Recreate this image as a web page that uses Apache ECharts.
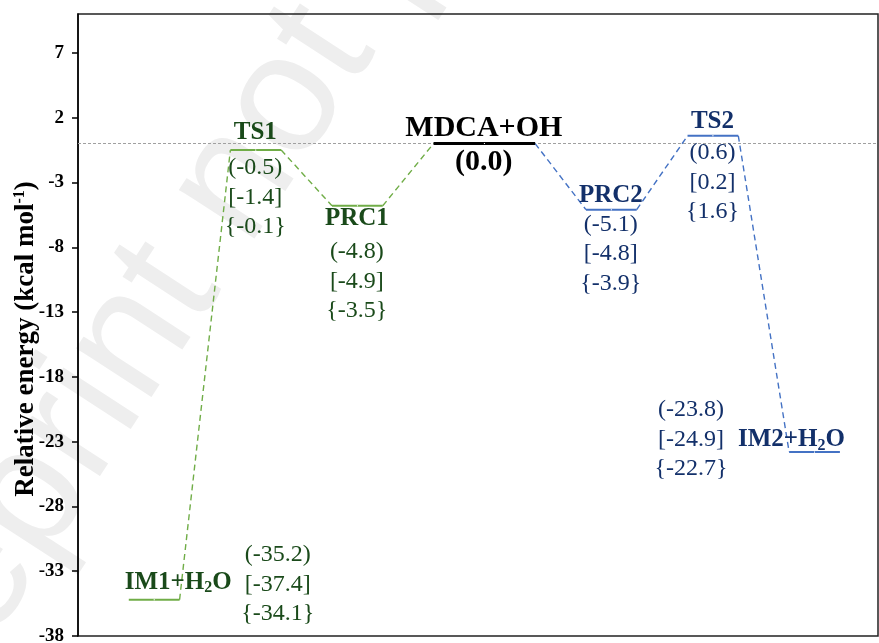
<!DOCTYPE html>
<html>
<head>
<meta charset="utf-8">
<script src="https://cdn.jsdelivr.net/npm/echarts@6/dist/echarts.min.js"></script>
<style>
  html, body { margin: 0; padding: 0; background: #fff; }
  #chart { width: 879px; height: 643px; }
</style>
</head>
<body>
<div id="chart"></div>
<script>
// Stationary points along the reaction path (kcal/mol)
const states = ['IM1+H2O', 'TS1', 'PRC1', 'MDCA+OH', 'PRC2', 'TS2', 'IM2+H2O'];
const energyParen   = [-35.2, -0.5, -4.8, 0.0, -5.1, 0.6, -23.8];
const energyBracket = [-37.4, -1.4, -4.9, null, -4.8, 0.2, -24.9];
const energyBrace   = [-34.1, -0.1, -3.5, null, -3.9, 1.6, -22.7];
const yTicks = [-38, -33, -28, -23, -18, -13, -8, -3, 2, 7];

const SERIF = "'Liberation Serif','Times New Roman',serif";
const GREEN_LINE = '#70AD47', GREEN_TEXT = '#1A4A1A';
const BLUE_LINE = '#4472C4', BLUE_TEXT = '#13306A';
const REF = 'MDCA+OH';

// horizontal extent of each level on the hidden x axis
const spans = [];
let cursor = 0;
states.forEach(s => {
  const w = s === REF ? 2 : 1;
  spans.push([cursor, cursor + w]);
  cursor += w + 1;
});
const refIdx = states.indexOf(REF);
const lineColor = i => i < refIdx ? GREEN_LINE : (i > refIdx ? BLUE_LINE : '#000');
const textColor = i => i < refIdx ? GREEN_TEXT : (i > refIdx ? BLUE_TEXT : '#000');

// label placement relative to the centre of each level (pixels)
const labelLayout = [
  { name: { dx: -29, dy: -17, align: 'left' },  vals: { dx: 124, dy: -15 } },
  { name: { dx: 0,   dy: -17, align: 'center' }, vals: { dx: 0, dy: 48 } },
  { name: { dx: 0,   dy: 13,  align: 'center' }, vals: { dx: 0, dy: 76 } },
  { name: { dx: 0,   dy: -15, align: 'center' }, vals: { dx: 0, dy: 19 } },
  { name: { dx: 0,   dy: -14, align: 'center' }, vals: { dx: 0, dy: 45 } },
  { name: { dx: 0,   dy: -14, align: 'center' }, vals: { dx: 0, dy: 47 } },
  { name: { dx: 31,  dy: -12, align: 'right' },  vals: { dx: -123, dy: -12 } }
];

const fmt = v => v.toFixed(1);
const series = [];

// energy levels
states.forEach((s, i) => {
  const e = energyParen[i];
  series.push({
    type: 'line', silent: true, symbol: 'none', z: 4,
    data: [[spans[i][0], e], [spans[i][1], e]],
    lineStyle: { color: lineColor(i), width: i === refIdx ? 3 : 2, opacity: 1 }
  });
});

// dashed connectors between neighbouring levels
for (let i = 0; i < states.length - 1; i++) {
  series.push({
    type: 'line', silent: true, symbol: 'none', z: 3,
    data: [[spans[i][1], energyParen[i]], [spans[i + 1][0], energyParen[i + 1]]],
    lineStyle: { color: i < refIdx ? GREEN_LINE : BLUE_LINE, width: 1.4, type: [6, 4] }
  });
}

// reference zero line
series[0].markLine = {
  silent: true, symbol: 'none', label: { show: false }, z: 1,
  lineStyle: { color: '#a0a0a0', type: [3, 2], width: 1 },
  data: [{ yAxis: 0 }]
};

// names and values
const labelData = [];
states.forEach((s, i) => {
  const cx = (spans[i][0] + spans[i][1]) / 2;
  const e = energyParen[i];
  const L = labelLayout[i];
  const col = textColor(i);
  const isRef = i === refIdx;
  labelData.push({
    value: [cx, e],
    label: {
      show: true, position: [L.name.dx, L.name.dy],
      align: L.name.align, verticalAlign: 'middle',
      formatter: () => s.replace('H2O', 'H{s|2}O'),
      fontFamily: SERIF, fontWeight: 'bold', fontSize: isRef ? 30 : 25, color: col,
      opacity: 1, textBorderWidth: 0,
      rich: { s: { fontFamily: SERIF, fontWeight: 'bold', fontSize: 16, color: col, padding: [12, 0, 0, 0] } }
    }
  });
  const lines = ['(' + fmt(e) + ')'];
  if (energyBracket[i] !== null) lines.push('[' + fmt(energyBracket[i]) + ']');
  if (energyBrace[i] !== null) lines.push('{' + fmt(energyBrace[i]) + '}');
  labelData.push({
    value: [cx, e],
    label: {
      show: true, position: [L.vals.dx, L.vals.dy],
      align: 'center', verticalAlign: 'middle',
      formatter: () => lines.join('\n'),
      fontFamily: SERIF, fontWeight: isRef ? 'bold' : 'normal',
      fontSize: isRef ? 30 : 24, lineHeight: 29.5, color: col,
      opacity: 1, textBorderWidth: 0
    }
  });
});
series.push({
  type: 'scatter', silent: true, symbolSize: 1, z: 5,
  itemStyle: { color: '#fff', opacity: 1 },
  data: labelData
});

const option = {
  animation: false,
  backgroundColor: '#fff',
  graphic: [{
    type: 'text', silent: true, z: -10,
    x: -70, y: 808, rotation: 57 * Math.PI / 180,
    style: {
      text: 'Preprint not peer reviewed',
      font: "170px 'Liberation Sans', Arial, sans-serif",
      fill: '#eeeeee', verticalAlign: 'bottom'
    }
  }],
  grid: {
    left: 78, right: 1, top: 14, bottom: 7,
    containLabel: false, outerBoundsMode: 'none',
    show: true, borderColor: '#222', borderWidth: 1.5, backgroundColor: 'transparent'
  },
  xAxis: { type: 'value', min: -1, max: 14.75, show: false },
  yAxis: {
    type: 'value', min: -38, max: 10,
    axisLine: { show: true, onZero: false, lineStyle: { color: '#000', width: 1.5 } },
    axisTick: { show: true, inside: false, length: 6, lineStyle: { color: '#000', width: 1.5 }, customValues: yTicks },
    axisLabel: { customValues: yTicks, fontFamily: SERIF, fontWeight: 'bold', fontSize: 19, color: '#000', margin: 14 },
    splitLine: { show: false },
    name: 'Relative energy (kcal mol{sup|-1})',
    nameLocation: 'middle', nameGap: 38, nameMoveOverlap: false,
    nameTextStyle: {
      fontFamily: SERIF, fontWeight: 'bold', fontSize: 27, color: '#000',
      padding: [0, 28, 0, 0],
      rich: { sup: { fontFamily: SERIF, fontWeight: 'bold', fontSize: 16, color: '#000', padding: [0, 0, 12, 0] } }
    }
  },
  series: series
};

echarts.init(document.getElementById('chart')).setOption(option);
</script>
</body>
</html>
